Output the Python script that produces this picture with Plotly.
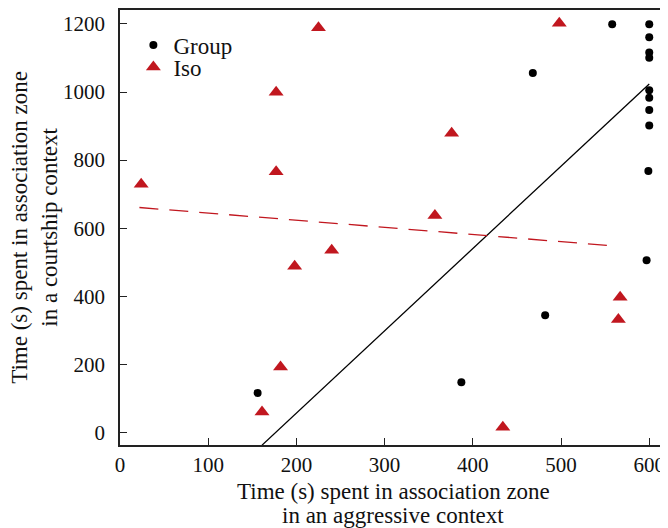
import plotly.graph_objects as go

# Group (black circles)
group_x = [156, 387, 482, 468, 558, 600, 600, 600, 600, 600, 600, 600, 600, 599, 597]
group_y = [116, 147, 344, 1056, 1199, 1199, 1161, 1116, 1101, 1005, 983, 947, 902, 768, 506]

# Iso (red triangles)
iso_x = [225, 177, 498, 376, 24, 177, 198, 240, 357, 182, 161, 434, 565, 567]
iso_y = [1189, 999, 1202, 879, 729, 766, 488, 535, 637, 192, 60, 15, 332, 397]

# Fitted lines (endpoints in data units)
group_fit_x = [161, 600]
group_fit_slope, group_fit_intercept = 2.417, -426.6
iso_fit_x = [22, 559]
iso_fit_slope, iso_fit_intercept = -0.21, 665.4

x_ticks = [0, 100, 200, 300, 400, 500, 600]
y_ticks = [0, 200, 400, 600, 800, 1000, 1200]

x_title_lines = ["Time (s) spent in association zone", "in an aggressive context"]
y_title = "Time (s) spent in association zone<br>in a courtship context"

RED = "#C1171F"
FONT = "Liberation Serif"
TXT = "#111"

fig = go.Figure()
fig.add_trace(go.Scatter(
    x=group_fit_x, y=[group_fit_slope * v + group_fit_intercept for v in group_fit_x],
    mode="lines", line=dict(color="black", width=1.3), showlegend=False, hoverinfo="skip"))
fig.add_trace(go.Scatter(
    x=iso_fit_x, y=[iso_fit_slope * v + iso_fit_intercept for v in iso_fit_x],
    mode="lines", line=dict(color=RED, width=1.3, dash="19px,11px"), showlegend=False, hoverinfo="skip"))
fig.add_trace(go.Scatter(
    x=group_x, y=group_y, mode="markers", name="Group", legend="legend",
    marker=dict(symbol="circle", size=8, color="black")))
fig.add_trace(go.Scatter(
    x=iso_x, y=iso_y, mode="markers", name="Iso", legend="legend2",
    marker=dict(symbol="triangle-up", size=13, color=RED)))

axis_common = dict(
    showgrid=False, zeroline=False, showline=True, linecolor="#222", linewidth=1.6,
    mirror=True, ticks="inside", ticklen=7, tickwidth=1.2, tickcolor="#222",
    tickfont=dict(family=FONT, size=21, color=TXT), automargin=False,
)
fig.update_xaxes(range=[0, 619], tickvals=x_ticks, **axis_common, ticklabelstandoff=0)
fig.update_yaxes(range=[-37, 1241], tickvals=y_ticks, **axis_common, ticklabelstandoff=9)

for line_text, ypos in zip(x_title_lines, [-0.108, -0.163]):
    fig.add_annotation(text=line_text, xref="paper", yref="paper", x=0.5, y=ypos,
                       xanchor="center", yanchor="middle", showarrow=False,
                       font=dict(family=FONT, size=23, color=TXT))
fig.add_annotation(text=y_title, xref="paper", yref="paper", x=-0.157, y=0.5,
                   xanchor="center", yanchor="middle", showarrow=False, textangle=-90,
                   font=dict(family=FONT, size=23, color=TXT))

leg_common = dict(xanchor="left", yanchor="middle", bgcolor="rgba(0,0,0,0)",
                  font=dict(family=FONT, size=23, color=TXT), itemsizing="trace")
fig.update_layout(
    width=660, height=520,
    margin=dict(l=112, r=2, t=2, b=83),
    plot_bgcolor="white", paper_bgcolor="white",
    font=dict(family=FONT, size=21, color=TXT),
    legend=dict(x=0.0245, y=0.9195, **leg_common),
    legend2=dict(x=0.0245, y=0.869, **leg_common),
)
fig.write_html("out.html")
